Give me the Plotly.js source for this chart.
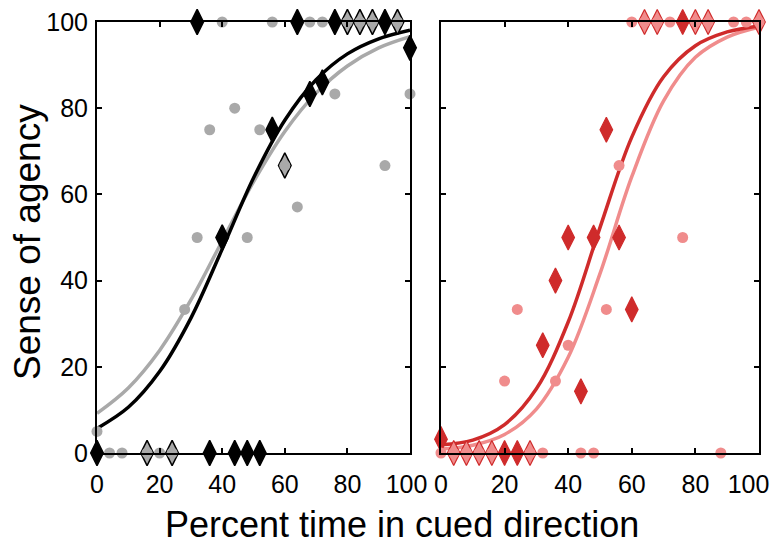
<!DOCTYPE html>
<html>
<head>
<meta charset="utf-8">
<script src="https://cdn.plot.ly/plotly-3.0.1.min.js"></script>
<style>html,body{margin:0;padding:0;background:#fff;}#chart{width:770px;height:554px;}</style>
</head>
<body>
<div id="chart"></div>
<script>
// ---- Left panel data ----
var leftDiamondX = [0, 16, 24, 36, 44, 48, 52, 40, 56, 60, 68, 72, 32, 64, 76, 80, 84, 88, 92, 96, 100];
var leftDiamondY = [0, 0, 0, 0, 0, 0, 0, 50, 75, 66.7, 83.3, 86, 100, 100, 100, 100, 100, 100, 100, 100, 94];
var leftCircleX = [0, 4, 8, 16, 20, 24, 28, 32, 48, 36, 52, 44, 60, 64, 76, 92, 100, 40, 56, 68, 72, 80, 84, 88, 96];
var leftCircleY = [5, 0, 0, 0, 0, 0, 33.3, 50, 50, 75, 75, 80, 66.7, 57.1, 83.3, 66.7, 83.3, 100, 100, 100, 100, 100, 100, 100, 100];
// ---- Right panel data ----
var rightDiamondX = [0, 4, 8, 12, 16, 20, 24, 28, 32, 36, 40, 44, 48, 52, 56, 60, 64, 68, 76, 80, 84, 100];
var rightDiamondY = [3.2, 0, 0, 0, 0, 0, 0, 0, 25, 40, 50, 14.3, 50, 75, 50, 33.3, 100, 100, 100, 100, 100, 100];
var rightCircleX = [0, 4, 8, 12, 16, 28, 32, 44, 48, 88, 20, 36, 40, 24, 52, 56, 76, 60, 64, 68, 72, 80, 84, 92, 96, 100];
var rightCircleY = [0, 0, 0, 0, 0, 0, 0, 0, 0, 0, 16.7, 16.7, 25, 33.3, 33.3, 66.7, 50, 100, 100, 100, 100, 100, 100, 100, 100, 100];
// ---- Fitted curves ----
var curveX = [0, 10, 20, 30, 40, 50, 60, 70, 80, 90, 100];
var blackCurve = [5.7, 10.6, 18.9, 31.3, 47.3, 63.8, 77.2, 86.6, 92.6, 96.1, 98.1];
var greyCurve = [9.2, 15.1, 23.8, 35.5, 49.2, 62.9, 74.6, 83.5, 89.8, 94.0, 96.6];
var redCurve = [1.9, 3.0, 6.6, 14.9, 30.4, 52.3, 73.3, 87.3, 94.5, 97.7, 99.1];
var pinkCurve = [0.9, 1.8, 4.3, 10.2, 22.2, 41.6, 64.1, 81.7, 91.8, 96.5, 98.8];
var tickVals = [0, 20, 40, 60, 80, 100];
var yTickText = ['0', '20', '40', '60', '80', '100'];
var leftTickText = ['0', '20', '40', '60', '80', '100\u00a0'];
var rightTickText = ['0', '20', '40', '60', '80', '100\u00a0\u00a0\u00a0'];

var BLACK = '#000000', GREY = '#a9a9a9', RED = '#cf2b2b', PINK = '#f08c8c';
var FONT = 'Liberation Sans, Arial, sans-serif';

function overlapFill(dx, dy, cx, cy, base, light) {
  return dx.map(function (x, i) {
    for (var j = 0; j < cx.length; j++) {
      if (cx[j] === x && cy[j] === dy[i]) return light;
    }
    return base;
  });
}

var traces = [
  {x: curveX, y: greyCurve, mode: 'lines', line: {color: GREY, width: 3.5, shape: 'spline'}, xaxis: 'x', yaxis: 'y', hoverinfo: 'skip'},
  {x: curveX, y: blackCurve, mode: 'lines', line: {color: BLACK, width: 3.5, shape: 'spline'}, xaxis: 'x', yaxis: 'y', hoverinfo: 'skip'},
  {x: leftDiamondX, y: leftDiamondY, mode: 'markers', cliponaxis: false, xaxis: 'x', yaxis: 'y',
   marker: {symbol: 'diamond-tall', size: 18, color: overlapFill(leftDiamondX, leftDiamondY, leftCircleX, leftCircleY, BLACK, GREY), line: {color: BLACK, width: 1.5}}},
  {x: leftCircleX, y: leftCircleY, mode: 'markers', cliponaxis: false, xaxis: 'x', yaxis: 'y',
   marker: {symbol: 'circle', size: 11, color: GREY, line: {width: 0}}},
  {x: curveX, y: pinkCurve, mode: 'lines', line: {color: PINK, width: 3.5, shape: 'spline'}, xaxis: 'x2', yaxis: 'y2', hoverinfo: 'skip'},
  {x: curveX, y: redCurve, mode: 'lines', line: {color: RED, width: 3.5, shape: 'spline'}, xaxis: 'x2', yaxis: 'y2', hoverinfo: 'skip'},
  {x: rightDiamondX, y: rightDiamondY, mode: 'markers', cliponaxis: false, xaxis: 'x2', yaxis: 'y2',
   marker: {symbol: 'diamond-tall', size: 18, color: overlapFill(rightDiamondX, rightDiamondY, rightCircleX, rightCircleY, RED, PINK), line: {color: RED, width: 1.2}}},
  {x: rightCircleX, y: rightCircleY, mode: 'markers', cliponaxis: false, xaxis: 'x2', yaxis: 'y2',
   marker: {symbol: 'circle', size: 11, color: PINK, line: {width: 0}}}
];

var axisBase = {
  range: [0, 100], showgrid: false, zeroline: false, showline: true, linecolor: '#000', linewidth: 2,
  mirror: 'ticks', ticks: 'inside', ticklen: 5, tickwidth: 2, tickcolor: '#000',
  tickvals: tickVals, ticktext: yTickText, ticklabeloverflow: 'allow',
  tickfont: {family: FONT, size: 25, color: '#000'}
};
function ax(extra) { return Object.assign({}, axisBase, extra); }

var layout = {
  width: 770, height: 554, showlegend: false,
  paper_bgcolor: '#fff', plot_bgcolor: '#fff',
  margin: {l: 97, r: 11, t: 22, b: 101},
  font: {family: FONT, color: '#000'},
  xaxis: ax({domain: [0, 0.4728], anchor: 'y', ticklabelstandoff: 8, ticktext: leftTickText}),
  yaxis: ax({domain: [0, 1], anchor: 'x', ticklabelstandoff: 2}),
  xaxis2: ax({domain: [0.5196, 1], anchor: 'y2', ticklabelstandoff: 8, ticktext: rightTickText}),
  yaxis2: ax({domain: [0, 1], anchor: 'x2', showticklabels: false}),
  annotations: [
    {text: 'Percent time in cued direction', xref: 'paper', yref: 'paper', x: 0.461, y: -0.165,
     xanchor: 'center', yanchor: 'middle', showarrow: false, font: {family: FONT, size: 36, color: '#000'}},
    {text: 'Sense of agency', xref: 'paper', yref: 'paper', x: -0.104, y: 0.49, textangle: -90,
     xanchor: 'center', yanchor: 'middle', showarrow: false, font: {family: FONT, size: 37, color: '#000'}}
  ]
};

Plotly.newPlot('chart', traces, layout, {displayModeBar: false, staticPlot: true});
</script>
</body>
</html>
